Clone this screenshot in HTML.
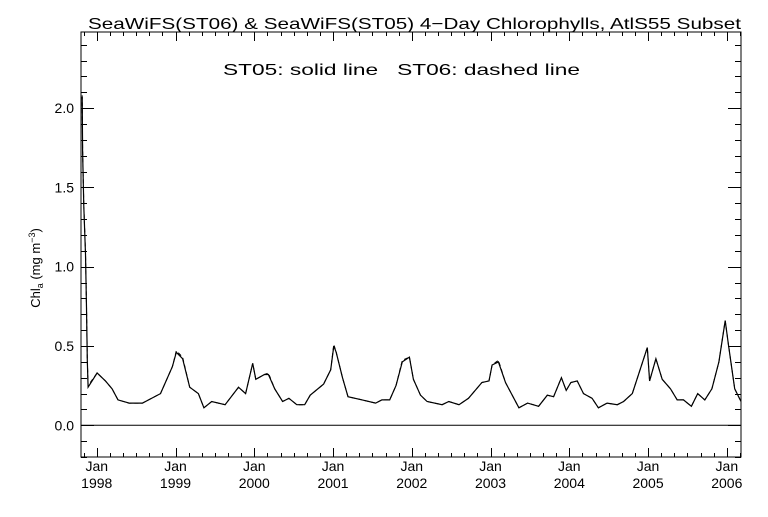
<!DOCTYPE html>
<html><head><meta charset="utf-8"><style>
html,body{margin:0;padding:0;background:#fff;}
svg text{font-family:"Liberation Sans",sans-serif;fill:#000;}
</style></head><body>
<svg id="chart" width="768" height="512" xmlns="http://www.w3.org/2000/svg">
<rect width="768" height="512" fill="#fff"/>
<text x="88" y="29" font-size="16" textLength="653" lengthAdjust="spacingAndGlyphs">SeaWiFS(ST06) &amp; SeaWiFS(ST05) 4−Day Chlorophylls, AtlS55 Subset</text>
<text x="223" y="75" font-size="16" textLength="357" lengthAdjust="spacingAndGlyphs" xml:space="preserve">ST05: solid line   ST06: dashed line</text>
<text transform="translate(40,268) rotate(-90)" font-size="13" text-anchor="middle">Chl<tspan font-size="9" dy="3">a</tspan><tspan dy="-3"> (mg m</tspan><tspan font-size="9" dy="-5">−3</tspan><tspan dy="5">)</tspan></text>
<g id="axes"></g>
<g id="series"></g>
</svg>
<script>
const years=[1997.815,1997.82,1997.835,1997.857,1997.87,1997.88,1997.89,1998.005,1998.11,1998.195,1998.27,1998.41,1998.58,1998.81,1998.96,1999.01,1999.09,1999.18,1999.29,1999.36,1999.46,1999.63,1999.80,1999.89,1999.98,2000.02,2000.13,2000.18,2000.26,2000.36,2000.44,2000.54,2000.64,2000.71,2000.88,2000.97,2001.01,2001.04,2001.12,2001.19,2001.37,2001.54,2001.62,2001.72,2001.80,2001.88,2001.97,2002.02,2002.11,2002.195,2002.385,2002.47,2002.60,2002.72,2002.89,2002.98,2003.02,2003.10,2003.19,2003.36,2003.47,2003.61,2003.72,2003.80,2003.90,2003.96,2004.02,2004.10,2004.18,2004.29,2004.37,2004.48,2004.61,2004.69,2004.80,2004.99,2005.02,2005.10,2005.18,2005.285,2005.37,2005.45,2005.55,2005.63,2005.72,2005.81,2005.90,2005.98,2006.02,2006.10,2006.18];
const st05=[2.07,1.73,1.38,1.08,0.74,0.41,0.24,0.33,0.28,0.23,0.16,0.14,0.14,0.20,0.37,0.46,0.42,0.24,0.20,0.11,0.15,0.13,0.24,0.20,0.39,0.29,0.32,0.32,0.23,0.15,0.17,0.13,0.13,0.19,0.26,0.35,0.50,0.46,0.30,0.18,0.16,0.14,0.16,0.16,0.25,0.40,0.43,0.29,0.19,0.15,0.13,0.15,0.13,0.17,0.27,0.28,0.38,0.40,0.27,0.11,0.14,0.12,0.19,0.18,0.30,0.22,0.27,0.28,0.20,0.17,0.11,0.14,0.13,0.15,0.20,0.49,0.28,0.42,0.29,0.23,0.16,0.16,0.12,0.20,0.16,0.23,0.40,0.66,0.51,0.23,0.15];
const st06=[2.08,1.74,1.39,1.09,0.75,0.42,0.25,0.33,0.28,0.23,0.16,0.14,0.14,0.20,0.37,0.47,0.43,0.24,0.20,0.11,0.15,0.13,0.24,0.20,0.39,0.29,0.32,0.33,0.23,0.15,0.17,0.13,0.13,0.19,0.26,0.35,0.51,0.46,0.30,0.18,0.16,0.14,0.16,0.16,0.25,0.41,0.43,0.29,0.19,0.15,0.13,0.15,0.13,0.17,0.27,0.28,0.38,0.41,0.27,0.11,0.14,0.12,0.19,0.18,0.30,0.22,0.27,0.28,0.20,0.17,0.11,0.14,0.13,0.15,0.20,0.49,0.28,0.42,0.29,0.23,0.16,0.16,0.12,0.20,0.16,0.23,0.40,0.66,0.51,0.23,0.15];
const yTicks=[0,0.5,1.0,1.5,2.0];
const yTickLabels=["0.0","0.5","1.0","1.5","2.0"];
const xYears=[1998,1999,2000,2001,2002,2003,2004,2005,2006];

const L=81,R=741,T=32,B=457;
const X0=1997.8,X1=2006.18,Y0=-0.2,Y1=2.48;
const xs=v=>L+(v-X0)/(X1-X0)*(R-L);
const ys=v=>B-(v-Y0)/(Y1-Y0)*(B-T);
const NS="http://www.w3.org/2000/svg";
function mk(tag,attrs,parent){const e=document.createElementNS(NS,tag);for(const k in attrs)e.setAttribute(k,attrs[k]);parent.appendChild(e);return e;}
const ax=document.getElementById('axes');
const box=mk('rect',{x:L,y:T,width:R-L,height:B-T,fill:'none',stroke:'#000','stroke-width':1},ax);


const zl=mk('line',{x1:L,x2:R,y1:ys(0),y2:ys(0),stroke:'#000','stroke-width':1},ax);


for(let i=-2;i<=24;i++){const v=i/10;const y=Math.round(ys(v))+0.5;const major=(i%5===0);const len=major?13:6;
 const t1=mk('line',{x1:L,x2:L+len,y1:y,y2:y,stroke:'#000'},ax);
 
 
 const t2=mk('line',{x1:R,x2:R-len,y1:y,y2:y,stroke:'#000'},ax);
 
 }
yTicks.forEach((v,i)=>{const t=mk('text',{x:74,y:ys(v)+5,'font-size':14,'text-anchor':'end'},ax);t.textContent=yTickLabels[i];
 
 });
for(let yr=1997;yr<=2006;yr++){for(let m=0;m<12;m+=2){const v=yr+m/12;if(v<X0||v>X1)continue;const x=Math.round(xs(v))+0.5;const major=m===0;const len=major?9:4;
 const a=mk('line',{x1:x,x2:x,y1:B,y2:B-len,stroke:'#000'},ax);
 
 
 const b=mk('line',{x1:x,x2:x,y1:T,y2:T+len,stroke:'#000'},ax);
 
 }}
xYears.forEach(yr=>{const x=xs(yr);
 const j=mk('text',{x:x,y:471,'font-size':14,'text-anchor':'middle'},ax);j.textContent='Jan';
 
 
 const t=mk('text',{x:x,y:488,'font-size':14,'text-anchor':'middle'},ax);t.textContent=String(yr);
 
 });
const sg=document.getElementById('series');
const pts=a=>years.map((y,i)=>xs(y).toFixed(1)+','+ys(a[i]).toFixed(1)).join(' ');
const l5=mk('polyline',{points:pts(st05),fill:'none',stroke:'#000','stroke-width':1.2},sg);


const l6=mk('polyline',{points:pts(st06),fill:'none',stroke:'#000','stroke-width':1,'stroke-dasharray':'4,3'},sg);


</script>
</body></html>
